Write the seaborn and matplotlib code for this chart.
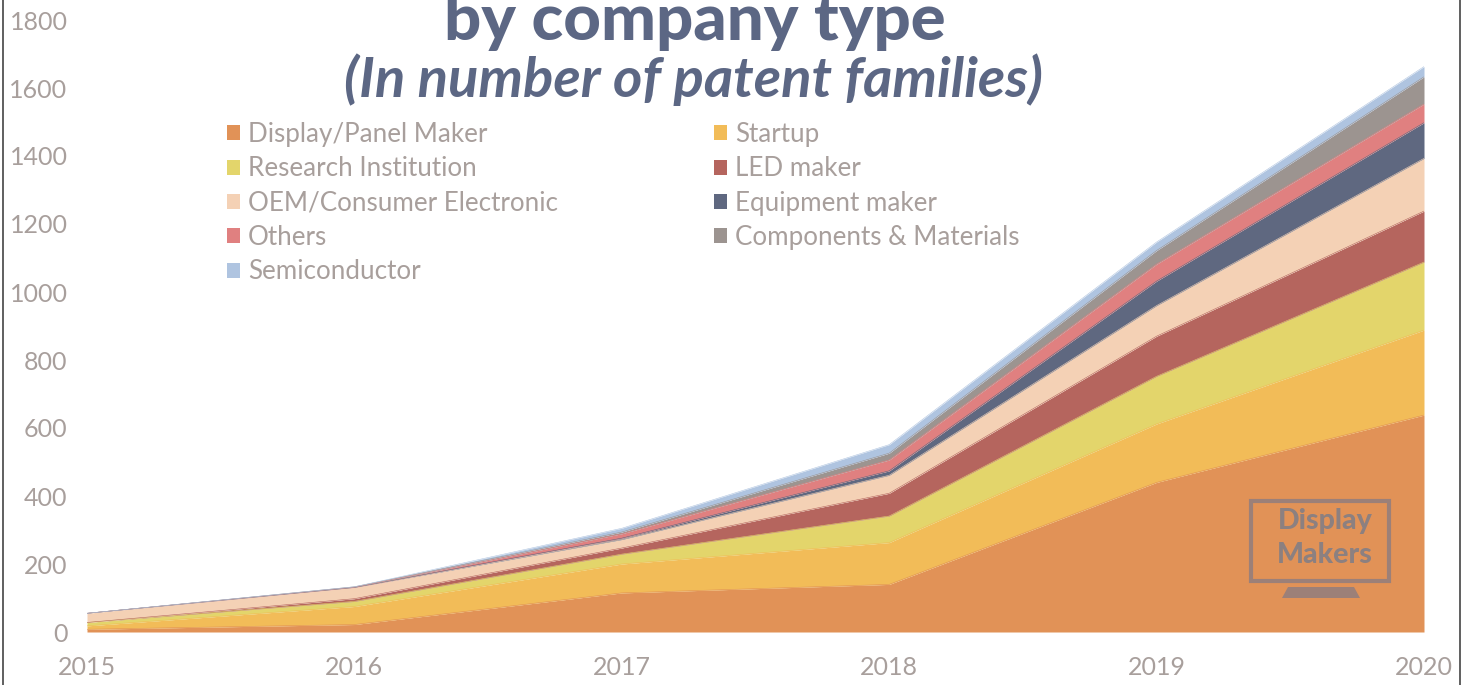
import numpy as np
import seaborn as sns
import matplotlib.pyplot as plt
from matplotlib.lines import Line2D
from matplotlib.patches import Rectangle, Polygon, Patch

years = [2015, 2016, 2017, 2018, 2019, 2020]
yticks = [0, 200, 400, 600, 800, 1000, 1200, 1400, 1600, 1800]

names = ['Display/Panel Maker', 'Startup', 'Research Institution', 'LED maker',
         'OEM/Consumer Electronic', 'Equipment maker', 'Others',
         'Components & Materials', 'Semiconductor']
colors = ['#E19257', '#F2BC58', '#E3D56B', '#B5655E', '#F4D1B5',
          '#5F6880', '#E08080', '#9C9490', '#AFC4E0']

# values per company type
display_maker = [8, 22, 115, 140, 440, 638]
startup = [10, 53, 85, 123, 172, 250]
research = [10, 15, 29, 78, 140, 200]
led = [0, 8, 18, 67, 118, 150]
oem = [27, 33, 25, 53, 90, 155]
equipment = [0, 0, 4, 13, 72, 105]
others = [0, 1, 13, 32, 50, 55]
components = [0, 1, 5, 20, 40, 80]
semiconductor = [0, 0, 11, 25, 25, 30]

series = [display_maker, startup, research, led, oem, equipment, others, components, semiconductor]

W, H = 1469, 685
sns.set_theme(style='white')
plt.rcParams['font.family'] = ['Lato', 'DejaVu Sans']
grey = '#A89F9C'
navy = '#5C6784'

fig = plt.figure(figsize=(W / 100, H / 100), dpi=100)
ax = fig.add_axes([87 / W, 1 - 632 / H, (1424 - 87) / W, (632 - 20) / H])
ax.patch.set_alpha(0)

# stacked areas
palette = sns.color_palette(colors)
bottom = np.zeros(len(years))
for vals, c in zip(series, palette):
    top = bottom + np.array(vals)
    ax.fill_between(years, bottom, top, color=c, lw=0)
    sns.lineplot(x=years, y=top, color=c, lw=0.4, ax=ax, legend=False, errorbar=None)
    bottom = top

ax.set_xlim(2015, 2020)
ax.set_ylim(0, 1800)
ax.set_xticks(years)
ax.set_yticks(yticks)
ax.tick_params(axis='both', length=0, labelsize=18, labelcolor=grey)
ax.tick_params(axis='y', pad=14)
ax.tick_params(axis='x', pad=17)
sns.despine(ax=ax, left=True, bottom=True)

# legend, filled column by column
handles = [Patch(color=c, label=n, lw=0) for n, c in zip(names, palette)]
order = [0, 2, 4, 6, 8, 1, 3, 5, 7]
ax.legend([handles[i] for i in order], [names[i] for i in order], ncol=2, frameon=False,
          loc='upper left', bbox_to_anchor=(227 / W, 1 - 122 / H), bbox_transform=fig.transFigure,
          fontsize=18.7, labelcolor=grey, handlelength=0.5, handleheight=0.5, handletextpad=0.31,
          columnspacing=6.0, labelspacing=0.36, borderpad=0, borderaxespad=0)

# title, cut off at the top like the source
fig.text(695 / W, 1 - 40 / H, 'by company type', ha='center', va='baseline',
         fontsize=47, fontweight='black', color=navy)
fig.text(693 / W, 1 - 97 / H, '(In number of patent families)', ha='center', va='baseline',
         fontsize=40.5, fontweight='bold', fontstyle='italic', color=navy)

# page border
for x in [3, 1460]:
    fig.add_artist(Line2D([x / W, x / W], [0, 1], color='#444444', lw=1.2))

# monitor logo
logo = '#9C8078'
fig.add_artist(Rectangle((1251 / W, 1 - 581 / H), 138 / W, 80 / H, fill=False, ec=logo, lw=3,
                         transform=fig.transFigure))
fig.add_artist(Polygon([(1282 / W, 1 - 598 / H), (1360 / W, 1 - 598 / H), (1354 / W, 1 - 587 / H),
                        (1288 / W, 1 - 587 / H)], closed=True, fc=logo, ec='none',
                       transform=fig.transFigure))
fig.text(1325 / W, 1 - 521 / H, 'Display', ha='center', va='center', fontsize=20.5,
         fontweight='black', color='#8C8080')
fig.text(1325 / W, 1 - 555 / H, 'Makers', ha='center', va='center', fontsize=20.5,
         fontweight='black', color='#8C8080')

fig.savefig('out.png', dpi=100)
